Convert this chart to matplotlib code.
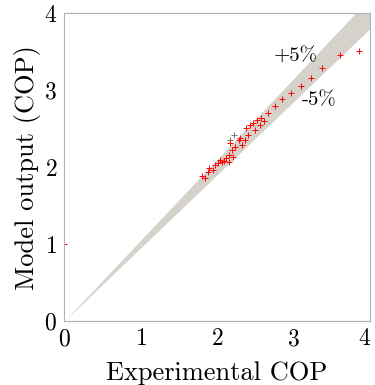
import matplotlib
matplotlib.use("Agg")
import matplotlib.pyplot as plt
import matplotlib.transforms as mtransforms
import numpy as np

plt.rcParams['font.family'] = 'serif'
plt.rcParams['font.serif'] = ['cmr10']
plt.rcParams['mathtext.fontset'] = 'cm'
plt.rcParams['axes.unicode_minus'] = False
plt.rcParams['axes.formatter.use_mathtext'] = True

# measured vs. model COP
exp_cop = [0.0, 1.80, 1.84, 1.88, 1.90, 1.94, 1.97, 2.01, 2.04, 2.07, 2.09, 2.12,
           2.15, 2.16, 2.20, 2.21, 2.24, 2.17, 2.28, 2.30, 2.33, 2.37, 2.40,
           2.38, 2.43, 2.47, 2.49, 2.52, 2.56, 2.57, 2.61, 2.66, 2.76, 2.85,
           2.97, 3.09, 3.23, 3.37, 3.60, 3.86]
model_cop = [1.0, 1.88, 1.86, 1.94, 1.99, 1.96, 2.03, 2.05, 2.09, 2.06, 2.08, 2.12,
             2.16, 2.06, 2.22, 2.13, 2.26, 2.31, 2.35, 2.38, 2.29, 2.35, 2.42,
             2.51, 2.55, 2.57, 2.48, 2.61, 2.55, 2.64, 2.60, 2.70, 2.79, 2.88,
             2.96, 3.05, 3.16, 3.29, 3.45, 3.51]
# a few darker markers partly hidden under the red ones
exp_dark = [2.22, 2.17]
model_dark = [2.42, 2.35]

tol = 0.05  # +/-5% band

fig = plt.figure(figsize=(3.75, 3.85), dpi=100)
ax = fig.add_axes([0.171, 0.166, 0.816, 0.800])

xb = np.array([0, 4.2])
ax.fill_between(xb, xb * (1 - tol), xb * (1 + tol), color='#d5d2cb', lw=0)

ax.plot(exp_dark, model_dark, '+', color='#777777', ms=5, mew=0.7)
ax.plot(exp_cop, model_cop, '+', color='red', ms=5, mew=0.7)

ax.text(3.03, 3.43, '+5%', fontsize=15, ha='center', va='center')
ax.text(3.33, 2.87, '-5%', fontsize=15, ha='center', va='center')

ax.set_xlim(0, 4)
ax.set_ylim(0, 4)
ax.set_xticks([0, 1, 2, 3, 4])
ax.set_yticks([0, 1, 2, 3, 4])
ax.tick_params(direction='in', length=0, labelsize=17, pad=5)
for s in ax.spines.values():
    s.set_color('#b0b0b0')
    s.set_linewidth(0.8)

# keep the last x tick label inside the figure
last = ax.get_xticklabels()[-1]
last.set_transform(last.get_transform() +
                   mtransforms.ScaledTranslation(-4 / 72, 0, fig.dpi_scale_trans))

ax.set_xlabel('Experimental COP', fontsize=19, labelpad=8)
ax.set_ylabel('Model output (COP)', fontsize=19, labelpad=2)

fig.savefig('out.png', dpi=100)
